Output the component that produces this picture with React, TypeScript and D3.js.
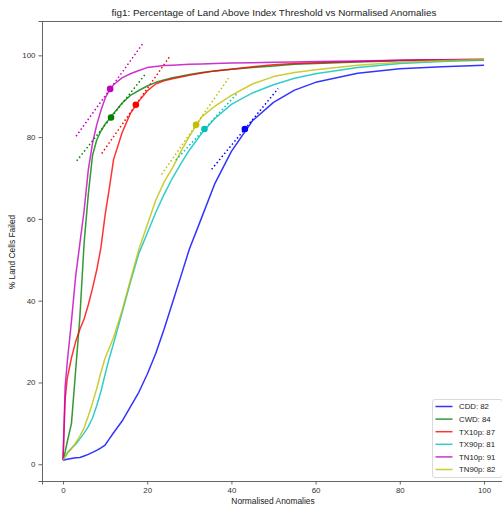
import React, { useEffect, useRef } from "react";
import * as d3 from "d3";

// normalised anomaly grid (x)
const anomalies = [0, 0.5, 1, 2, 3, 4, 5, 6, 7, 8, 9, 10, 11, 12, 14, 16, 18, 20, 22, 24, 26, 28, 30, 33, 36, 40, 45, 50, 55, 60, 70, 80, 90, 100];

// % land cells failed per index
const cdd = [1, 1.1, 1.2, 1.4, 1.6, 1.65, 2.0, 2.4, 2.9, 3.4, 4.0, 4.7, 6.2, 7.7, 10.5, 14, 17.6, 22, 27, 33, 39.5, 46, 52.6, 60.5, 68.5, 76.5, 84, 88.5, 91.5, 93.4, 95.6, 96.7, 97.2, 97.6];
const cwd = [1, 3, 5.5, 10, 23, 36, 54, 66, 75.5, 79.3, 81.5, 83.2, 84.4, 85.8, 88.3, 90.2, 91.4, 92.5, 93.4, 94, 94.5, 94.9, 95.3, 95.8, 96.2, 96.6, 97.0, 97.4, 97.8, 98.0, 98.4, 98.7, 98.9, 99.0];
const tx10p = [1, 16, 21, 26, 30, 33, 35.5, 39, 43, 47.5, 53, 61, 67.5, 74.5, 81, 85.8, 88.8, 91.3, 93, 93.8, 94.3, 94.7, 95.1, 95.7, 96.2, 96.6, 97.2, 97.7, 98, 98.2, 98.5, 98.8, 98.9, 99.0];
const tx90p = [1, 1.8, 2.8, 3.9, 4.9, 6.2, 7.6, 9.2, 11.3, 14.3, 17.8, 22, 26, 29.5, 37, 44.5, 51.5, 56.5, 61.5, 66, 70, 73.5, 76.8, 81, 84.5, 88, 90.8, 92.8, 94.4, 95.5, 97, 98, 98.5, 98.8];
const tn10p = [1, 19, 25, 35, 46, 54, 62, 72, 78.5, 83, 86.5, 89.5, 91.5, 92.8, 94.5, 95.5, 96.3, 97, 97.3, 97.5, 97.6, 97.7, 97.8, 97.9, 98, 98.1, 98.2, 98.3, 98.4, 98.5, 98.6, 98.8, 98.9, 99];
const tn90p = [1, 1.8, 2.6, 3.8, 5.2, 6.9, 8.9, 11.8, 15, 18.5, 22.5, 26, 28.5, 31, 37.5, 45, 52.5, 58.5, 64.5, 69, 72.5, 76.5, 80.2, 85, 87.5, 90.2, 93, 94.8, 95.8, 96.5, 97.6, 98.3, 98.7, 99];

const names = ["CDD", "CWD", "TX10p", "TX90p", "TN10p", "TN90p"];
const legendValues = [82, 84, 87, 81, 91, 82];
const colors = ["#0000ff", "#008000", "#ff0000", "#00bfbf", "#bf00bf", "#bfbf00"];
const seriesValues = [cdd, cwd, tx10p, tx90p, tn10p, tn90p];

// threshold point and tangent through it
const markerX = [43.2, 11.4, 17.3, 33.6, 11.2, 31.6];
const markerY = [82, 84.8, 87.9, 82, 91.8, 83];
const tangentSlope = [1.25, 1.3, 1.47, 1.12, 1.43, 1.48];
const tangentFrom = [35.3, 3.25, 9.2, 26.8, 3.1, 23.4];
const tangentTo = [51.1, 19.5, 25.3, 41.4, 18.9, 39.3];

const xTicks = [0, 20, 40, 60, 80, 100];
const yTicks = [0, 20, 40, 60, 80, 100];

const App = () => {
  const ref = useRef<SVGSVGElement>(null);

  useEffect(() => {
    document.body.style.margin = "0";
    const width = 502;
    const height = 506;
    const margin = { top: 21, right: -3, bottom: 25, left: 42 };
    const font = "'Liberation Sans', Arial, sans-serif";

    const svg = d3.select(ref.current);
    svg.selectAll("*").remove();
    svg.attr("width", width).attr("height", height).style("font-family", font);

    const x = d3.scaleLinear().domain([-5, 105]).range([margin.left, width - margin.right]);
    const y = d3.scaleLinear().domain([-4.1, 108.4]).range([height - margin.bottom, margin.top]);

    const xAxis = d3.axisBottom(x).tickValues(xTicks).tickSizeOuter(0).tickSize(3.5).tickPadding(3);
    const yAxis = d3.axisLeft(y).tickValues(yTicks).tickSizeOuter(0).tickSize(3.5).tickPadding(3);

    const styleAxis = (g: any) => {
      g.select(".domain").attr("stroke", "#555").attr("stroke-width", 0.9);
      g.selectAll(".tick line").attr("stroke", "#555").attr("stroke-width", 0.9);
      g.selectAll(".tick text").attr("fill", "#333").attr("font-size", 7.9).attr("font-family", font);
    };

    svg
      .append("g")
      .attr("transform", `translate(0,${height - margin.bottom})`)
      .call(xAxis)
      .call(styleAxis);

    svg
      .append("g")
      .attr("transform", `translate(${margin.left},0)`)
      .call(yAxis)
      .call(styleAxis);

    // top spine
    svg
      .append("line")
      .attr("x1", margin.left)
      .attr("x2", width)
      .attr("y1", margin.top + 0.5)
      .attr("y2", margin.top + 0.5)
      .attr("stroke", "#555")
      .attr("stroke-width", 0.9);

    svg
      .append("text")
      .attr("x", 274)
      .attr("y", 15.5)
      .attr("text-anchor", "middle")
      .attr("font-size", 9.9)
      .attr("fill", "#222")
      .text("fig1: Percentage of Land Above Index Threshold vs Normalised Anomalies");

    svg
      .append("text")
      .attr("x", 273)
      .attr("y", 504)
      .attr("text-anchor", "middle")
      .attr("font-size", 8.4)
      .attr("fill", "#222")
      .text("Normalised Anomalies");

    svg
      .append("text")
      .attr("transform", `translate(15,252) rotate(-90)`)
      .attr("text-anchor", "middle")
      .attr("font-size", 8.4)
      .attr("fill", "#222")
      .text("% Land Cells Failed");

    const line = d3
      .line<number>()
      .x((_, i) => x(anomalies[i]))
      .y((d) => y(d));

    const plot = svg.append("g");

    seriesValues.forEach((vals, k) => {
      plot
        .append("path")
        .datum(vals)
        .attr("d", line)
        .attr("fill", "none")
        .attr("stroke", colors[k])
        .attr("stroke-opacity", 0.8)
        .attr("stroke-width", 1.5)
        .attr("stroke-linejoin", "round");
    });

    seriesValues.forEach((_, k) => {
      const y0 = markerY[k] + (tangentFrom[k] - markerX[k]) * tangentSlope[k];
      const y1 = markerY[k] + (tangentTo[k] - markerX[k]) * tangentSlope[k];
      plot
        .append("line")
        .attr("x1", x(tangentFrom[k]))
        .attr("y1", y(y0))
        .attr("x2", x(tangentTo[k]))
        .attr("y2", y(y1))
        .attr("stroke", colors[k])
        .attr("stroke-width", 1.5)
        .attr("stroke-dasharray", "1.5 2.5");
      plot
        .append("circle")
        .attr("cx", x(markerX[k]))
        .attr("cy", y(markerY[k]))
        .attr("r", 3.3)
        .attr("fill", colors[k]);
    });

    // legend
    const legend = svg.append("g").attr("transform", `translate(432.5,399.5)`);
    legend
      .append("rect")
      .attr("width", 70)
      .attr("height", 78)
      .attr("rx", 2.5)
      .attr("fill", "#fff")
      .attr("fill-opacity", 0.8)
      .attr("stroke", "#d0d0d0")
      .attr("stroke-width", 0.8);

    names.forEach((n, i) => {
      const g = legend.append("g").attr("transform", `translate(0,${7 + i * 12.6})`);
      g.append("line")
        .attr("x1", 3)
        .attr("x2", 20)
        .attr("stroke", colors[i])
        .attr("stroke-opacity", 0.8)
        .attr("stroke-width", 1.5);
      g.append("text")
        .attr("x", 26.5)
        .attr("y", 2.8)
        .attr("font-size", 7.8)
        .attr("fill", "#222")
        .text(`${n}: ${legendValues[i]}`);
    });
  }, []);

  return <svg ref={ref} style={{ display: "block" }}></svg>;
};

export default App;
